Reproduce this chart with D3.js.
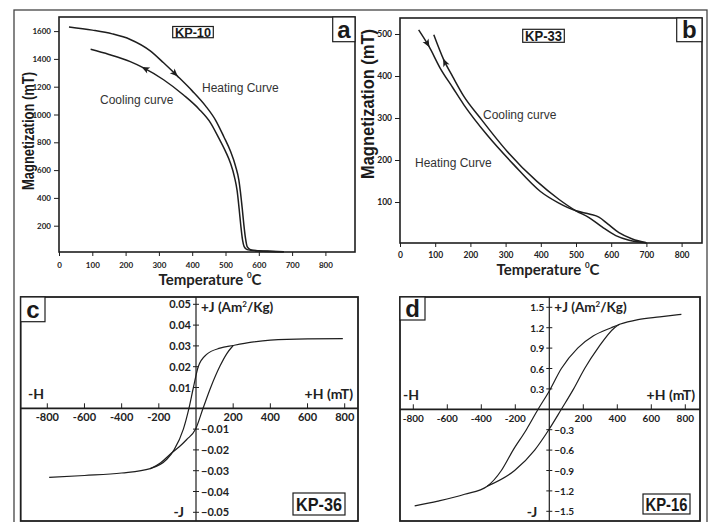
<!DOCTYPE html>
<html>
<head>
<meta charset="utf-8">
<script src="https://cdn.jsdelivr.net/npm/d3@7"></script>
<style>
  body { margin: 0; background: #fff; }
  svg { display: block; }
  .tick { font-family: Lato, "Open Sans", sans-serif; font-weight: bold; fill: #222; }
  .narrow { font-family: "Liberation Sans", Arial, sans-serif; font-weight: bold; fill: #1a1a1a; }
  .note { font-family: "Liberation Sans", Arial, sans-serif; fill: #333; }
</style>
</head>
<body>
<svg id="chart" width="712" height="522"></svg>
<script>
// ---- data ----
var tempTicks = [0, 100, 200, 300, 400, 500, 600, 700, 800];
var magTicksA = [200, 400, 600, 800, 1000, 1200, 1400, 1600];
var magTicksB = [100, 200, 300, 400, 500];

// KP-10 thermomagnetic curves [T degC, M mT]
var heatA = [[30,1630],[100,1607],[160,1580],[214,1540],[274,1458],[314,1372],[355,1278],[400,1170],[440,1062],[470,960],[495,840],[515,735],[530,630],[540,530],[545,440],[550,330],[555,210],[560,110],[565,50],[575,28],[600,20],[640,16],[675,12]];
var coolA = [[95,1469],[150,1432],[214,1380],[254,1335],[314,1250],[374,1140],[420,1040],[455,940],[480,830],[500,735],[515,650],[527,550],[535,450],[541,320],[546,200],[551,100],[556,50],[565,28],[600,18],[675,12]];
var arrowsA = [{curve: "heat", T: 355, back: false}, {curve: "cool", T: 250, back: true}];

// KP-33
var heatB = [[53,510],[82,471],[114,419],[150,372],[181,332],[247,260],[323,189],[399,125],[450,98],[500,79],[540,71],[565,64],[590,48],[622,27],[660,12],[700,3]];
var coolB = [[96,498],[124,439],[150,398],[181,352],[228,300],[304,221],[389,149],[452,106],[500,79],[537,63],[575,40],[613,20],[651,9],[700,3]];
var arrowsB = [{curve: "heat", T: 82, back: false}, {curve: "cool", T: 124, back: true}];

// hysteresis loops [H mT, J Am2/kg]
var hTicks = [-800, -600, -400, -200, 200, 400, 600, 800];
var jTicksC = [0.05, 0.04, 0.03, 0.02, 0.01, -0.01, -0.02, -0.03, -0.04, -0.05];
var jTicksD = [1.5, 1.2, 0.9, 0.6, 0.3, -0.3, -0.6, -0.9, -1.2, -1.5];

var upperC = [[-790,-0.0332],[-600,-0.0323],[-400,-0.0311],[-246,-0.0290],[-157,-0.0245],[-118,-0.0200],[-68,-0.0100],[-38,0],[-14,0.0100],[12,0.0200],[57,0.0259],[129,0.0289],[200,0.0302],[300,0.0318],[400,0.0328],[600,0.0334],[790,0.0335]];
var lowerC = [[-246,-0.0290],[-190,-0.0262],[-139,-0.0221],[-90,-0.0185],[-50,-0.0150],[-2,-0.0100],[38,0],[79,0.0100],[129,0.0203],[165,0.0262],[200,0.0302]];

var upperD = [[-792,-1.42],[-655,-1.35],[-498,-1.25],[-365,-1.13],[-282,-0.9],[-213,-0.6],[-135,-0.3],[-66,0],[0,0.27],[71,0.6],[167,0.9],[260,1.08],[365,1.2],[414,1.25],[522,1.32],[650,1.36],[777,1.397]];
var lowerD = [[-365,-1.13],[-204,-0.9],[-86,-0.6],[0,-0.29],[71,0],[143,0.3],[208,0.6],[286,0.9],[384,1.2],[414,1.25]];

var svg = d3.select("#chart");
var ink = "#1e1e1e";

// outer frame
svg.append("rect").attr("x", 14).attr("y", 10).attr("width", 693).attr("height", 530)
  .attr("fill", "none").attr("stroke", "#444").attr("stroke-width", 1.3);

function box(x0, y0, x1, y1, sw) {
  svg.append("rect").attr("x", x0).attr("y", y0).attr("width", x1 - x0).attr("height", y1 - y0)
    .attr("fill", "#fff").attr("stroke", ink).attr("stroke-width", sw || 1.6);
}

// narrow bold text: squeeze a normal bold face to the width seen in the figure
function narrowText(x, y, txt, size, len, anchor, rot) {
  var t = svg.append("text").attr("class", "narrow").attr("font-size", size)
    .attr("text-anchor", anchor || "middle").attr("textLength", len)
    .attr("lengthAdjust", "spacingAndGlyphs").text(txt);
  if (rot) t.attr("transform", "translate(" + x + "," + y + ") rotate(" + rot + ")");
  else t.attr("x", x).attr("y", y);
  return t;
}

function labelBox(b, txt, size, len) {
  svg.append("rect").attr("x", b[0]).attr("y", b[1]).attr("width", b[2] - b[0]).attr("height", b[3] - b[1])
    .attr("fill", "#fff").attr("stroke", ink).attr("stroke-width", 1.2);
  var t = svg.append("text").attr("class", "narrow").attr("x", (b[0] + b[2]) / 2).attr("y", (b[1] + b[3]) / 2)
    .attr("dy", "0.36em").attr("text-anchor", "middle").attr("font-size", size).text(txt);
  if (len) t.attr("textLength", len).attr("lengthAdjust", "spacingAndGlyphs");
}

function addArrow(node, xPix, back) {
  var L = node.getTotalLength(), best = 0, bd = 1e9;
  for (var l = 0; l <= L; l += 0.5) {
    var q = node.getPointAtLength(l);
    if (Math.abs(q.x - xPix) < bd) { bd = Math.abs(q.x - xPix); best = l; }
  }
  var p0 = node.getPointAtLength(Math.max(0, best - 2));
  var p1 = node.getPointAtLength(Math.min(L, best + 2));
  var p = node.getPointAtLength(best);
  var ang = Math.atan2(p1.y - p0.y, p1.x - p0.x) * 180 / Math.PI + (back ? 180 : 0);
  svg.append("path").attr("d", "M1,0L-7,-3.4L-5,0L-7,3.4Z")
    .attr("transform", "translate(" + p.x + "," + p.y + ") rotate(" + ang + ")")
    .attr("fill", ink);
}

// ---- thermomagnetic panels ----
function thermoPanel(o) {
  box(o.bx[0], o.bx[1], o.bx[2], o.bx[3]);
  var x = d3.scaleLinear().domain([0, 800]).range(o.xr);
  var y = d3.scaleLinear().domain(o.yd).range(o.yr);

  var ga = svg.append("g").attr("transform", "translate(" + o.bx[0] + ",0)")
    .call(d3.axisLeft(y).tickValues(o.yTicks).tickFormat(d3.format("d")).tickSize(5).tickPadding(3));
  ga.select(".domain").remove();
  ga.selectAll("line").attr("stroke", ink);
  ga.selectAll("text").attr("class", "tick").attr("font-size", o.tickFs);
  ga.attr("font-family", null);

  var gb = svg.append("g").attr("transform", "translate(0," + o.bx[3] + ")")
    .call(d3.axisBottom(x).tickValues(tempTicks).tickFormat(d3.format("d")).tickSize(4).tickPadding(o.xPad));
  gb.select(".domain").remove();
  gb.selectAll("line").attr("stroke", ink);
  gb.selectAll("text").attr("class", "tick").attr("font-size", o.tickFs);
  gb.attr("font-family", null);

  var line = d3.line().x(function (d) { return x(d[0]); }).y(function (d) { return y(d[1]); })
    .curve(d3.curveMonotoneX);
  var nodes = {};
  [["heat", o.heat], ["cool", o.cool]].forEach(function (c) {
    nodes[c[0]] = svg.append("path").datum(c[1]).attr("d", line)
      .attr("fill", "none").attr("stroke", ink).attr("stroke-width", 1.5).node();
  });
  o.arrows.forEach(function (a) { addArrow(nodes[a.curve], x(a.T), a.back); });

  // axis titles
  var t = svg.append("text").attr("class", "tick").attr("x", o.tTitle[0]).attr("y", o.tTitle[1])
    .attr("text-anchor", "middle").attr("font-size", 15);
  t.append("tspan").text("Temperature ");
  t.append("tspan").attr("font-size", 8).attr("dy", -7).text("0");
  t.append("tspan").attr("dy", 7).text("C");
  narrowText(o.mTitle[0], o.mTitle[1], "Magnetization (mT)", o.mFs, o.mLen, "middle", -90);

  o.notes.forEach(function (n) {
    svg.append("text").attr("class", "note").attr("font-size", 12).attr("x", n[0]).attr("y", n[1]).text(n[2]);
  });
  labelBox(o.kp, o.kpText, o.kpFs, o.kpLen);
  labelBox(o.lt, o.letter, 24);
}

thermoPanel({
  bx: [59, 17, 355, 252], xr: [59, 325.4], yd: [0, 1600], yr: [253.5, 31.1],
  yTicks: magTicksA, tickFs: 8, xPad: 6,
  heat: heatA, cool: coolA, arrows: arrowsA,
  tTitle: [210, 285], mTitle: [34, 131], mFs: 16, mLen: 118,
  notes: [[202, 92, "Heating Curve"], [100, 104, "Cooling curve"]],
  kp: [172.7, 26.5, 213.3, 37.7], kpText: "KP-10", kpFs: 13, kpLen: 36,
  lt: [332.7, 17, 355, 41.7], letter: "a"
});

thermoPanel({
  bx: [400, 18, 702, 243], xr: [400, 681.6], yd: [0, 500], yr: [244, 34],
  yTicks: magTicksB, tickFs: 8.5, xPad: 5,
  heat: heatB, cool: coolB, arrows: arrowsB,
  tTitle: [548, 275], mTitle: [374, 104], mFs: 18, mLen: 150,
  notes: [[483, 119, "Cooling curve"], [415, 167, "Heating Curve"]],
  kp: [522.7, 29.3, 564.3, 42.3], kpText: "KP-33", kpFs: 14, kpLen: 37,
  lt: [676.7, 18, 702, 41.7], letter: "b"
});

// ---- hysteresis panels ----
function loopPanel(o) {
  box(o.bx[0], o.bx[1], o.bx[2], o.bx[3], 1.8);
  var x = d3.scaleLinear().domain([-800, 800]).range(o.xr);
  var y = d3.scaleLinear().domain(o.yd).range(o.yr);
  var x0 = x(0), y0 = y(0);

  svg.append("line").attr("x1", o.bx[0]).attr("x2", o.bx[2]).attr("y1", y0).attr("y2", y0)
    .attr("stroke", ink).attr("stroke-width", 1.8);
  svg.append("line").attr("x1", x0).attr("x2", x0).attr("y1", o.bx[1]).attr("y2", o.bx[3])
    .attr("stroke", ink).attr("stroke-width", 1.2);

  // H ticks (up from the axis), labels below
  svg.selectAll(null).data(hTicks).enter().append("line")
    .attr("x1", function (d) { return x(d); }).attr("x2", function (d) { return x(d); })
    .attr("y1", y0 - 5).attr("y2", y0).attr("stroke", ink);
  svg.selectAll(null).data(hTicks).enter().append("text").attr("class", "tick")
    .attr("font-size", o.tickFs).attr("text-anchor", "middle")
    .attr("x", function (d) { return x(d); }).attr("y", y0 + 13).text(function (d) { return d; });

  // J ticks cross the axis; positive labels left, negative right
  svg.selectAll(null).data(o.jTicks).enter().append("line")
    .attr("x1", x0 - 3).attr("x2", x0 + 3)
    .attr("y1", function (d) { return y(d); }).attr("y2", function (d) { return y(d); }).attr("stroke", ink);
  svg.selectAll(null).data(o.jTicks).enter().append("text").attr("class", "tick")
    .attr("font-size", o.tickFs)
    .attr("text-anchor", function (d) { return d > 0 ? "end" : "start"; })
    .attr("x", function (d) { return d > 0 ? x0 - 5 : x0 + 5; })
    .attr("y", function (d) { return y(d) + 4; })
    .text(function (d) { return o.fmt(d); });

  var line = d3.line().x(function (d) { return x(d[0]); }).y(function (d) { return y(d[1]); })
    .curve(d3.curveMonotoneX);
  [o.upper, o.lower].forEach(function (b) {
    svg.append("path").datum(b).attr("d", line).attr("fill", "none")
      .attr("stroke", ink).attr("stroke-width", 1.2);
  });

  var fs = 14;
  var jl = svg.append("text").attr("class", "tick").attr("font-size", 13.5).attr("x", x0 + 5).attr("y", o.bx[1] + 15);
  jl.append("tspan").text("+J (Am");
  jl.append("tspan").attr("font-size", 8).attr("dy", -5).text("2");
  jl.append("tspan").attr("dy", 5).text("/Kg)");
  svg.append("text").attr("class", "tick").attr("font-size", fs).attr("x", x0 - 12).attr("y", o.bx[3] - 4)
    .attr("text-anchor", "end").text("-J");
  svg.append("text").attr("class", "tick").attr("font-size", fs).attr("x", o.hm).attr("y", y0 - 9).text("-H");
  svg.append("text").attr("class", "tick").attr("font-size", fs).attr("x", o.bx[2] - 5).attr("y", y0 - 9)
    .attr("text-anchor", "end").text("+H (mT)");

  labelBox(o.kp, o.kpText, 19, o.kpLen);
  labelBox(o.lt, o.letter, 24);
}

loopPanel({
  bx: [20.7, 297, 358, 521], xr: [47.3, 344.7], yd: [-0.05, 0.05], yr: [512.3, 304.3],
  jTicks: jTicksC, tickFs: 11, fmt: d3.format(".2f"),
  upper: upperC, lower: lowerC, hm: 28,
  kp: [293, 493, 345, 515], kpText: "KP-36", kpLen: 46,
  lt: [20.7, 297, 45, 321.7], letter: "c"
});

loopPanel({
  bx: [400, 297, 700, 521], xr: [413.3, 685.3], yd: [-1.5, 1.5], yr: [511.3, 307.3],
  jTicks: jTicksD, tickFs: 10, fmt: d3.format(".1f"),
  upper: upperD, lower: lowerD, hm: 403,
  kp: [643, 494, 690, 514], kpText: "KP-16", kpLen: 42,
  lt: [400, 297, 425, 320], letter: "d"
});
</script>
</body>
</html>
